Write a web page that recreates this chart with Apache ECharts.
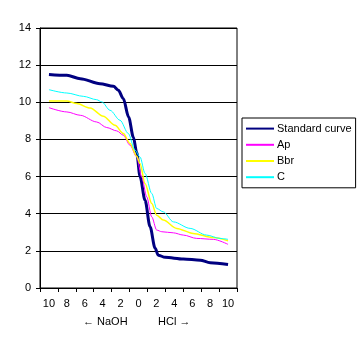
<!DOCTYPE html>
<html>
<head>
<meta charset="utf-8">
<script src="https://cdn.jsdelivr.net/npm/echarts@6/dist/echarts.min.js"></script>
<style>
  html, body { margin: 0; padding: 0; background: #fff; }
  #chart { width: 360px; height: 352px; }
</style>
</head>
<body>
<div id="chart"></div>
<script>
// x axis tick labels (NaOH side on the left, HCl side on the right)
const categories = ['10', '8', '6', '4', '2', '0', '2', '4', '6', '8', '10']
const yTicks = [0, 2, 4, 6, 8, 10, 12, 14]

// [position, value]; position -10 = 10 NaOH, 0 = middle, 10 = 10 HCl
const standardCurve = [
  [-10, 11.5], [-8, 11.45], [-6.5, 11.27], [-4.3, 11.0], [-2.8, 10.86], [-2.25, 10.65],
  [-1.7, 10.2], [-1.1, 9.2], [-0.58, 8.13], [-0.2, 7.3], [0.17, 6.0], [0.73, 4.73],
  [1.29, 3.3], [1.85, 2.15], [2.2, 1.77], [2.97, 1.65], [5.0, 1.56], [6.9, 1.5],
  [8.0, 1.36], [10, 1.27],
]
const ap = [
  [-10, 9.71], [-8, 9.48], [-6.5, 9.3], [-4.67, 8.94], [-3.55, 8.64], [-2.43, 8.46],
  [-1.7, 8.23], [-0.95, 7.69], [-0.2, 7.06], [0.36, 5.98], [0.92, 4.91], [1.48, 3.83],
  [2.03, 3.12], [2.6, 3.03], [3.9, 2.97], [5.0, 2.85], [6.5, 2.67], [8.35, 2.62], [10, 2.35],
]
const bbr = [
  [-10, 10.07], [-8, 10.07], [-6.9, 9.93], [-5.4, 9.69], [-3.93, 9.25], [-2.62, 8.76],
  [-1.7, 8.32], [-0.95, 7.78], [-0.2, 7.1], [0.17, 6.7], [0.73, 5.63], [1.48, 4.55],
  [2.03, 3.92], [2.77, 3.66], [4.27, 3.21], [6.1, 2.94], [8.35, 2.72], [10, 2.54],
]
const c = [
  [-10, 10.68], [-8, 10.5], [-6.16, 10.32], [-4.67, 10.14], [-4.1, 10.02], [-3.18, 9.57],
  [-2.06, 9.03], [-1.14, 8.32], [-0.39, 7.42], [0.17, 7.06], [0.73, 6.17], [1.48, 5.09],
  [2.03, 4.28], [2.77, 4.1], [3.9, 3.56], [5.76, 3.21], [7.6, 2.85], [9.1, 2.67], [10, 2.62],
]

const font = 'Liberation Sans, Arial, sans-serif'
const chart = echarts.init(document.getElementById('chart'))

const line = (name, data, color, width) => ({
  name,
  type: 'line',
  xAxisIndex: 1,
  data,
  symbol: 'none',
  smooth: 0.3,
  smoothMonotone: 'x',
  lineStyle: { color, width },
  itemStyle: { color },
  z: 3,
})

chart.setOption({
  animation: false,
  grid: {
    left: 40, right: 123, top: 28, bottom: 64,
    show: true, borderColor: '#000', borderWidth: 1,
  },
  legend: {
    orient: 'vertical',
    left: 242, top: 118,
    padding: [5, 4, 5, 3],
    itemGap: 5,
    itemWidth: 28,
    itemHeight: 14,
    borderColor: '#000',
    borderWidth: 1,
    itemStyle: { opacity: 0 },
    textStyle: { fontFamily: font, fontSize: 11, color: '#000', padding: [0, 0, 0, -2] },
    data: ['Standard curve', 'Ap', 'Bbr', 'C'],
  },
  xAxis: [
    {
      type: 'category',
      data: categories,
      boundaryGap: true,
      axisLine: { lineStyle: { color: '#000' } },
      axisTick: { show: true, length: 4, lineStyle: { color: '#000' } },
      axisLabel: { interval: 0, margin: 10, color: '#000', fontFamily: font, fontSize: 11 },
      splitLine: { show: false },
    },
    {
      type: 'value',
      min: -11, max: 11,
      show: false,
    },
  ],
  yAxis: {
    type: 'value',
    min: yTicks[0], max: yTicks[yTicks.length - 1], interval: 2,
    axisLine: { show: true, onZero: false, lineStyle: { color: '#000' } },
    axisTick: { show: true, length: 4, lineStyle: { color: '#000' } },
    axisLabel: { margin: 9, color: '#000', fontFamily: font, fontSize: 11 },
    splitLine: { lineStyle: { color: '#000', width: 1 } },
  },
  graphic: [
    { type: 'text', left: 83, top: 316, style: { text: '← NaOH', font: '11px ' + font, fill: '#000' } },
    { type: 'text', left: 158, top: 316, style: { text: 'HCl →', font: '11px ' + font, fill: '#000' } },
  ],
  series: [
    line('Standard curve', standardCurve, '#000080', 3),
    line('Ap', ap, '#FF00FF', 1),
    line('Bbr', bbr, '#FFFF00', 1.5),
    line('C', c, '#00FFFF', 1),
  ],
})
</script>
</body>
</html>
